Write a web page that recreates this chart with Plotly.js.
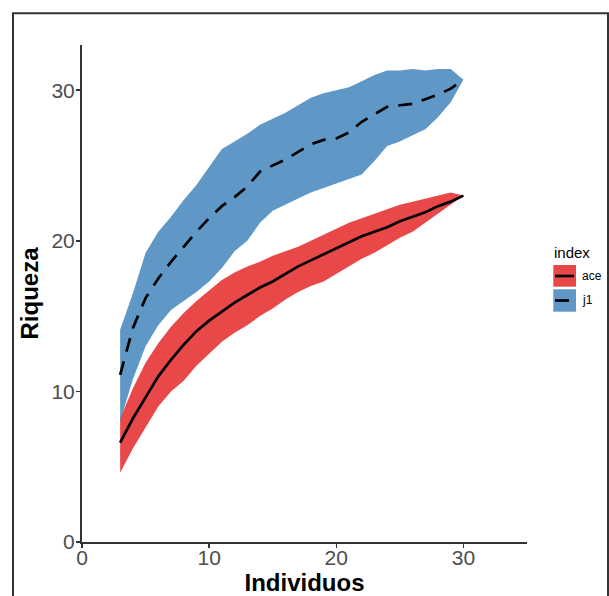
<!DOCTYPE html>
<html>
<head>
<meta charset="utf-8">
<script src="https://cdn.plot.ly/plotly-3.0.1.min.js"></script>
<style>html,body{margin:0;padding:0;background:#fff;}#chart{width:609px;height:596px;}</style>
</head>
<body>
<div id="chart"></div>
<script>
// Data
const individuos = [3,4,5,6,7,8,9,10,11,12,13,14,15,16,17,18,19,20,21,22,23,24,25,26,27,28,29,30];

const aceMean  = [6.6,8.2,9.6,11.0,12.1,13.1,14.0,14.7,15.3,15.9,16.4,16.9,17.3,17.8,18.3,18.7,19.1,19.5,19.9,20.3,20.6,20.9,21.3,21.6,21.9,22.3,22.6,23.0];
const aceUpper = [8.2,10.2,11.9,13.2,14.3,15.2,16.0,16.7,17.4,17.9,18.3,18.6,19.0,19.3,19.6,20.0,20.4,20.8,21.2,21.5,21.8,22.1,22.4,22.6,22.8,23.0,23.2,23.0];
const aceLower = [4.6,6.2,7.6,9.0,10.0,10.7,11.7,12.5,13.3,13.9,14.4,15.0,15.5,16.1,16.6,17.0,17.3,17.8,18.3,18.8,19.2,19.7,20.2,20.6,21.2,21.8,22.4,23.0];

const j1Mean  = [11.1,14.2,16.2,17.5,18.6,19.6,20.6,21.5,22.3,22.9,23.6,24.6,25.0,25.4,25.9,26.4,26.7,26.8,27.2,27.9,28.4,28.9,29.0,29.1,29.4,29.7,30.1,30.7];
const j1Upper = [14.1,16.5,19.2,20.6,21.6,22.7,23.7,24.9,26.1,26.6,27.1,27.7,28.1,28.5,29.0,29.5,29.8,30.0,30.2,30.6,31.0,31.3,31.3,31.4,31.3,31.4,31.4,30.7];
const j1Lower = [8.0,10.8,13.0,14.4,15.4,16.0,16.6,17.3,18.2,19.3,20.0,21.2,22.0,22.4,22.8,23.2,23.5,23.8,24.1,24.4,25.3,26.3,26.6,27.0,27.4,28.2,29.2,30.7];

const seriesNames = ["ace", "j1"];
const xTicks = [0,10,20,30];
const yTicks = [0,10,20,30];

const redFill = "rgba(228,26,28,0.8)";
const blueFill = "rgba(55,126,184,0.8)";
const dashPattern = "14px,10px";

function band(xs, up, lo, color, name) {
  return {
    x: xs.concat(xs.slice().reverse()),
    y: up.concat(lo.slice().reverse()),
    type: "scatter", mode: "lines", fill: "toself",
    fillcolor: color, line: {width: 0, color: color},
    name: name, showlegend: false, hoverinfo: "skip"
  };
}
function meanLine(xs, ys, dash, name) {
  return {
    x: xs, y: ys, type: "scatter", mode: "lines",
    line: {color: "#000", width: 2.7, dash: dash},
    name: name, showlegend: false
  };
}

const traces = [
  band(individuos, aceUpper, aceLower, redFill, seriesNames[0]),
  band(individuos, j1Upper, j1Lower, blueFill, seriesNames[1]),
  meanLine(individuos, aceMean, "solid", seriesNames[0]),
  meanLine(individuos, j1Mean, dashPattern, seriesNames[1])
];

const font = "Liberation Sans, Arial, Helvetica, sans-serif";

const layout = {
  width: 609, height: 596,
  margin: {l: 82, r: 82, t: 45, b: 54},
  paper_bgcolor: "#fff", plot_bgcolor: "#fff",
  showlegend: false,
  font: {family: font},
  xaxis: {
    range: [0, 35], tickvals: xTicks, ticktext: xTicks.map(String),
    showgrid: false, zeroline: false, showline: true,
    linecolor: "#333", linewidth: 2,
    ticks: "outside", ticklen: 4, tickwidth: 1.5, tickcolor: "#333",
    ticklabelstandoff: -8,
    tickfont: {size: 21, color: "#4D4D4D", family: font},
    title: {text: "<b>Individuos</b>", font: {size: 24, color: "#000", family: font}, standoff: 9}
  },
  yaxis: {
    range: [0, 33], tickvals: yTicks, ticktext: yTicks.map(String),
    showgrid: false, zeroline: false, showline: true,
    linecolor: "#333", linewidth: 2,
    ticks: "outside", ticklen: 4, tickwidth: 1.5, tickcolor: "#333",
    ticklabelstandoff: -3,
    tickfont: {size: 21, color: "#4D4D4D", family: font},
    title: {text: "<b>Riqueza</b>", font: {size: 24, color: "#000", family: font}, standoff: 6}
  },
  shapes: [
    // outer frame
    {type: "rect", xref: "paper", yref: "paper", x0: -0.155, x1: 1.182, y0: -0.2, y1: 1.064,
     line: {color: "#333", width: 2}, fillcolor: "rgba(0,0,0,0)"},
    // legend keys
    {type: "rect", xref: "paper", yref: "paper", x0: 1.0591, x1: 1.1101, y0: 0.5137, y1: 0.5573,
     line: {width: 0}, fillcolor: redFill},
    {type: "line", xref: "paper", yref: "paper", x0: 1.0629, x1: 1.1056, y0: 0.5352, y1: 0.5352,
     line: {color: "#000", width: 2.7}},
    {type: "rect", xref: "paper", yref: "paper", x0: 1.0591, x1: 1.1101, y0: 0.4634, y1: 0.5085,
     line: {width: 0}, fillcolor: blueFill},
    {type: "line", xref: "paper", yref: "paper", x0: 1.0629, x1: 1.1056, y0: 0.4859, y1: 0.4859,
     line: {color: "#000", width: 2.7, dash: dashPattern}}
  ],
  annotations: [
    {text: "index", xref: "paper", yref: "paper", x: 1.0560, y: 0.5835, xanchor: "left", yanchor: "middle",
     showarrow: false, font: {size: 15, color: "#000", family: font}},
    {text: seriesNames[0], xref: "paper", yref: "paper", x: 1.1180, y: 0.5352, xanchor: "left", yanchor: "middle",
     showarrow: false, font: {size: 12, color: "#000", family: font}},
    {text: seriesNames[1], xref: "paper", yref: "paper", x: 1.1180, y: 0.4869, xanchor: "left", yanchor: "middle",
     showarrow: false, font: {size: 12, color: "#000", family: font}}
  ]
};

Plotly.newPlot("chart", traces, layout, {displayModeBar: false, staticPlot: true});
</script>
</body>
</html>
